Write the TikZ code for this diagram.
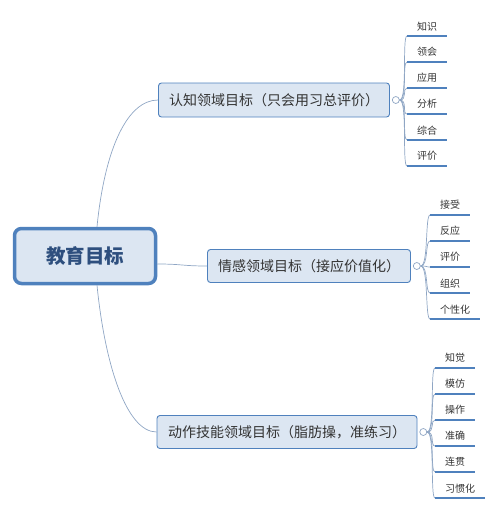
\documentclass[tikz,border=0pt]{standalone}
\usepackage{fontspec}
\setmainfont{Noto Sans CJK SC}
\usetikzlibrary{positioning}

\definecolor{linkblue}{HTML}{8FA6C4}
\definecolor{boxfill}{HTML}{DCE6F2}
\definecolor{boxline}{HTML}{4F81BD}
\definecolor{roottext}{HTML}{2E4F7E}
\definecolor{leaftext}{HTML}{333333}

\tikzset{
  root/.style={draw=boxline, line width=3.5pt, fill=boxfill, rounded corners=7pt,
    minimum width=141pt, minimum height=55pt, text=roottext,
    font=\fontsize{19.5}{22}\selectfont\bfseries},
  branch/.style={draw=boxline, line width=0.9pt, fill=boxfill, rounded corners=3pt,
    minimum height=33pt, inner xsep=0pt, text=leaftext,
    font=\fontsize{14}{16}\selectfont},
  knob/.style={circle, draw=linkblue, fill=white, line width=0.7pt,
    inner sep=0pt, minimum size=7pt},
  leaf/.style={anchor=south west, inner xsep=10pt, inner ysep=5pt, text=leaftext,
    font=\fontsize{10}{12}\selectfont},
  link/.style={draw=linkblue, line width=0.7pt},
  uline/.style={draw=boxline, line width=1.8pt},
}

\begin{document}
\begin{tikzpicture}[x=1pt, y=-1pt]
  \useasboundingbox (0,0) rectangle (500,512);

  % main topic and branches
  \node[root] (root) at (85,256) {教育目标};
  \node[branch, minimum width=231pt, minimum height=34pt] (b1) at (274,100) {认知领域目标（只会用习总评价）};
  \node[branch, minimum width=203pt] (b2) at (309,266) {情感领域目标（接应价值化）};
  \node[branch, minimum width=260pt] (b3) at (287,432) {动作技能领域目标（脂肪操，准练习）};

  \draw[link] ([xshift=12pt]root.north) .. controls +(8,-80) and +(-30,0) .. (b1.west);
  \draw[link] ([yshift=-8pt]root.east) .. controls +(25,0) and +(-25,0) .. (b2.west);
  \draw[link] ([xshift=12pt]root.south) .. controls +(8,80) and +(-30,0) .. (b3.west);

  \node[knob, right=2pt of b1] (k1) {};
  \node[knob, right=2pt of b2] (k2) {};
  \node[knob, right=2pt of b3] (k3) {};

  % Draw leaves of each branch
  \foreach \t [count=\i] in {知识,领会,应用,分析,综合,评价} {
    \node[leaf] (a\i) at (407,{10+26*\i}) {\t};
    \draw[link] (k1.east) .. controls +(8,0) and +(-5,0) .. (a\i.south west);
    \draw[uline] (a\i.south west) -- (a\i.south east);
  }
  \foreach \t [count=\i] in {接受,反应,评价,组织,个性化} {
    \node[leaf] (c\i) at (430,{189+26*\i}) {\t};
    \draw[link] (k2.east) .. controls +(8,0) and +(-5,0) .. (c\i.south west);
    \draw[uline] (c\i.south west) -- (c\i.south east);
  }
  \foreach \t [count=\i] in {知觉,模仿,操作,准确,连贯,习惯化} {
    \node[leaf] (d\i) at (435,{342+26*\i}) {\t};
    \draw[link] (k3.east) .. controls +(8,0) and +(-5,0) .. (d\i.south west);
    \draw[uline] (d\i.south west) -- (d\i.south east);
  }
\end{tikzpicture}
\end{document}
